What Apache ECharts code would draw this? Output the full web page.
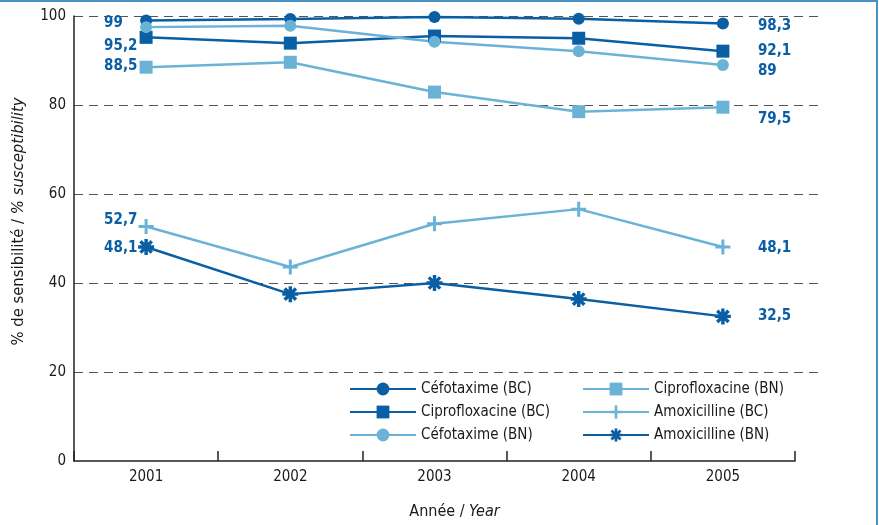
<!DOCTYPE html>
<html>
<head>
<meta charset="utf-8">
<script src="https://cdn.jsdelivr.net/npm/echarts@6/dist/echarts.min.js"></script>
<style>
html,body{margin:0;padding:0;background:#fff;}
#c{width:879px;height:525px;}
</style>
</head>
<body>
<div id="c"></div>
<script>
// ---- data ----
const years = ['2001', '2002', '2003', '2004', '2005'];
const cefotaximeBC = [99, 99.3, 99.8, 99.4, 98.3];
const ciprofloxacineBC = [95.2, 93.9, 95.5, 95.0, 92.1];
const cefotaximeBN = [97.5, 97.8, 94.2, 92.1, 89];
const ciprofloxacineBN = [88.5, 89.6, 82.9, 78.5, 79.5];
const amoxicillineBC = [52.7, 43.6, 53.3, 56.6, 48.1];
const amoxicillineBN = [48.1, 37.5, 40.0, 36.4, 32.5];
const yTicks = [0, 20, 40, 60, 80, 100];

// ---- styles ----
const DARK = '#0a5fa4';
const LIGHT = '#6ab3d7';
const FONT = '"DejaVu Sans Condensed", "Liberation Sans Narrow", "Liberation Sans", sans-serif';

function plusPath() {
  const t = 1.4, l = 7;
  return 'path://M' + (-t) + ',' + (-l) + 'L' + t + ',' + (-l) + 'L' + t + ',' + (-t) + 'L' + l + ',' + (-t) +
    'L' + l + ',' + t + 'L' + t + ',' + t + 'L' + t + ',' + l + 'L' + (-t) + ',' + l + 'L' + (-t) + ',' + t +
    'L' + (-l) + ',' + t + 'L' + (-l) + ',' + (-t) + 'L' + (-t) + ',' + (-t) + 'Z';
}
function starPath() {
  const t = 1.5, l = 7;
  let d = '';
  [0, 45, 90, 135].forEach(a => {
    const r = a * Math.PI / 180, c = Math.cos(r), s = Math.sin(r);
    const pts = [[-l, -t], [l, -t], [l, t], [-l, t]].map(p => [
      (p[0] * c - p[1] * s).toFixed(3), (p[0] * s + p[1] * c).toFixed(3)]);
    d += 'M' + pts.map(p => p.join(',')).join('L') + 'Z';
  });
  return 'path://' + d;
}

const fmt = v => String(v).replace('.', ',');

function makeSeries(name, vals, color, symbol, size, leftDy, rightDy) {
  const labelBase = {
    show: true, position: 'inside', align: 'left', verticalAlign: 'middle',
    color: '#0b5ea6', fontFamily: FONT, fontWeight: 'bold', fontSize: 15,
    formatter: p => fmt(p.value)
  };
  const data = vals.map((v, i) => {
    if (i === 0 && leftDy !== null) return { value: v, label: Object.assign({}, labelBase, { offset: [-42, leftDy] }) };
    if (i === vals.length - 1) return { value: v, label: Object.assign({}, labelBase, { offset: [35, rightDy] }) };
    return v;
  });
  return {
    name: name, type: 'line', xAxisIndex: 1, yAxisIndex: 1,
    data: data, symbol: symbol, symbolSize: size, showAllSymbol: true,
    lineStyle: { color: color, width: 2.5 },
    itemStyle: { color: color },
    label: { show: false },
    emphasis: { disabled: true },
    z: 3
  };
}

const series = [
  makeSeries('Céfotaxime (BC)', cefotaximeBC, DARK, 'circle', 12, 3, 3),
  makeSeries('Ciprofloxacine (BC)', ciprofloxacineBC, DARK, 'rect', 13, 9, 0),
  makeSeries('Céfotaxime (BN)', cefotaximeBN, LIGHT, 'circle', 12, null, 6.5),
  makeSeries('Ciprofloxacine (BN)', ciprofloxacineBN, LIGHT, 'rect', 13, -1.5, 12),
  makeSeries('Amoxicilline (BC)', amoxicillineBC, LIGHT, plusPath(), 15, -6, 1.5),
  makeSeries('Amoxicilline (BN)', amoxicillineBN, DARK, starPath(), 16, 1.5, 0)
];

const chart = echarts.init(document.getElementById('c'), null, { renderer: 'canvas' });
const legendText = { fontFamily: FONT, fontSize: 15, color: '#1a1a1a', lineHeight: 16 };
chart.setOption({
  animation: false,
  backgroundColor: '#fff',
  grid: [
    { left: 74, right: 61, top: 16, bottom: 153 },
    { left: 74, right: 84, top: 16, bottom: 64 }
  ],
  xAxis: [
    { gridIndex: 0, type: 'category', data: years, show: false },
    {
      gridIndex: 1, type: 'category', data: years, boundaryGap: true,
      axisLine: { lineStyle: { color: '#222', width: 1.5 } },
      axisTick: { show: true, inside: true, length: 10, lineStyle: { color: '#222', width: 1.5 } },
      axisLabel: { color: '#1a1a1a', fontFamily: FONT, fontSize: 15, margin: 9 },
      splitLine: { show: false },
      name: 'Année / {i|Year}', nameLocation: 'middle', nameGap: 43,
      nameTextStyle: {
        color: '#1a1a1a', fontFamily: FONT, fontSize: 16, padding: [0, 0, 0, 40],
        rich: { i: { fontStyle: 'italic', fontFamily: FONT, fontSize: 16, color: '#1a1a1a' } }
      }
    }
  ],
  yAxis: [
    {
      gridIndex: 0, type: 'value', min: 20, max: 100, interval: 20,
      axisLine: { show: false }, axisTick: { show: false }, axisLabel: { show: false },
      splitLine: { show: true, lineStyle: { color: '#555', width: 1.2, type: [9, 6] } }
    },
    {
      gridIndex: 1, type: 'value', min: yTicks[0], max: yTicks[yTicks.length - 1], interval: 20,
      axisLine: { show: true, lineStyle: { color: '#222', width: 1.5 } },
      axisTick: { show: false },
      axisLabel: { color: '#1a1a1a', fontFamily: FONT, fontSize: 15, margin: 8 },
      splitLine: { show: false },
      name: '% de sensibilité / {i|% susceptibility}', nameLocation: 'middle', nameGap: 47,
      nameTextStyle: {
        color: '#1a1a1a', fontFamily: FONT, fontSize: 16.5, padding: [0, 0, 0, 34],
        rich: { i: { fontStyle: 'italic', fontFamily: FONT, fontSize: 16.5, color: '#1a1a1a' } }
      }
    }
  ],
  legend: [
    {
      orient: 'vertical', left: 344, top: 376, itemWidth: 66, itemHeight: 16, itemGap: 7,
      data: ['Céfotaxime (BC)', 'Ciprofloxacine (BC)', 'Céfotaxime (BN)'],
      textStyle: legendText, selectedMode: false
    },
    {
      orient: 'vertical', left: 577, top: 376, itemWidth: 66, itemHeight: 16, itemGap: 7,
      data: ['Ciprofloxacine (BN)', 'Amoxicilline (BC)', 'Amoxicilline (BN)'],
      textStyle: legendText, selectedMode: false
    }
  ],
  graphic: [
    { type: 'line', shape: { x1: 0, y1: 1, x2: 878, y2: 1 }, style: { stroke: '#4a92c4', lineWidth: 2 }, silent: true },
    { type: 'line', shape: { x1: 877, y1: 0, x2: 877, y2: 525 }, style: { stroke: '#4a92c4', lineWidth: 2 }, silent: true }
  ],
  series: series
});
</script>
</body>
</html>
